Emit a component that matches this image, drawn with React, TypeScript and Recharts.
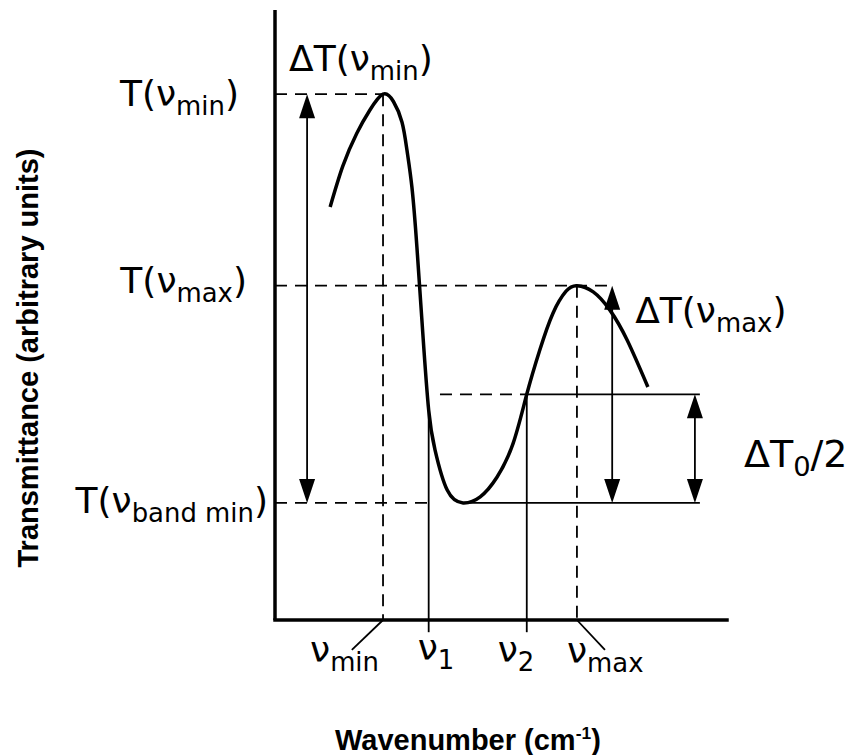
import React from 'react';
import { LineChart, Line, XAxis, YAxis, ReferenceLine, ReferenceDot, Customized } from 'recharts';

// ---- Data (arbitrary units, 0..100 on both axes) ----
const curveX = [12.2, 15.0, 18.1, 21.0, 23.9, 26.2, 28.1, 29.2, 30.3, 31.4, 32.7, 34.0, 35.4, 38.1, 41.6, 45.4, 49.1, 52.7, 55.7, 58.6, 61.5, 64.4, 66.8, 70.4, 74.1, 77.9, 82.5];
const curveY = [67.7, 74.4, 79.8, 83.6, 86.2, 85.0, 81.6, 77.0, 70.9, 61.1, 47.0, 34.4, 27.9, 21.3, 19.2, 20.2, 23.4, 29.0, 37.0, 44.3, 50.3, 53.9, 54.8, 53.8, 50.8, 45.9, 38.2];

// characteristic wavenumbers
const nuMin = 23.9;
const nu1 = 34.0;
const nu2 = 55.7;
const nuMax = 66.8;
const nuBandMin = 41.6;

// characteristic transmittances
const tNuMin = 86.2;
const tNuMax = 54.8;
const tHalf = 37.0;
const tBandMin = 19.2;

// annotation anchors
const arrowMinX = 7.1;
const arrowMaxX = 74.6;
const arrowHalfX = 92.9;
const levelEndX = 94.0;
const halfDashStartX = 36.5;
const tickBelowY = -2.0;
const slantMinEndX = 17.0;
const slantMaxEndX = 73.0;
const slantEndY = -4.9;

// label texts: [text, kind]
type Part = [string, '' | 'sub' | 'sup'];
const leftLabelTexts: Part[][] = [
  [['T(ν', ''], ['min', 'sub'], [')', '']],
  [['T(ν', ''], ['max', 'sub'], [')', '']],
  [['T(ν', ''], ['band min', 'sub'], [')', '']],
];
const leftLabelLevels = [tNuMin, tNuMax, tBandMin];
const bottomLabelTexts: Part[][] = [
  [['ν', ''], ['min', 'sub']],
  [['ν', ''], ['1', 'sub']],
  [['ν', ''], ['2', 'sub']],
  [['ν', ''], ['max', 'sub']],
];
const bottomLabelXs = [nuMin, nu1, nu2, nuMax];
const deltaMinText: Part[] = [['ΔT(ν', ''], ['min', 'sub'], [')', '']];
const deltaMaxText: Part[] = [['ΔT(ν', ''], ['max', 'sub'], [')', '']];
const deltaHalfText: Part[] = [['ΔT', ''], ['0', 'sub'], ['/2', '']];
const xTitle: Part[] = [['Wavenumber (cm', ''], ['-1', 'sup'], [')', '']];
const yTitle = 'Transmittance (arbitrary units)';

// ---- layout / style ----
const W = 865;
const H = 755;
const FONT = '"DejaVu Sans", "Open Sans", sans-serif';
const FS = 36;
const SUB_SHIFT = 9;
const leftLayout = [
  { dx: -36, dy: 12 },
  { dx: -28, dy: 7 },
  { dx: -7, dy: 10 },
];
const bottomLayout = [
  { dx: -73, dy: 42 },
  { dx: -11, dy: 40 },
  { dx: -29, dy: 42 },
  { dx: -10, dy: 43 },
];

const data = curveX.map((x, i) => ({ x, y: curveY[i] }));

function renderParts(parts: Part[], fs: number) {
  const out: React.ReactNode[] = [];
  let shift = 0;
  parts.forEach(([t, kind], i) => {
    let target = 0;
    if (kind === 'sub') target = SUB_SHIFT;
    if (kind === 'sup') target = -11;
    const dy = target - shift;
    shift = target;
    out.push(
      <tspan key={i} dy={dy} fontSize={kind ? (kind === 'sup' ? fs * 0.6 : fs * 0.72) : fs}>
        {t}
      </tspan>
    );
  });
  return out;
}

const makeTextShape = (parts: Part[], dx: number, dy: number, anchor: 'start' | 'end' | 'middle', fs = FS) =>
  (props: any) => (
    <text
      x={props.cx + dx}
      y={props.cy + dy}
      textAnchor={anchor}
      fontFamily={FONT}
      fontSize={fs}
      fill="#000"
    >
      {renderParts(parts, fs)}
    </text>
  );

const DoubleArrow = (props: any) => {
  const { x1, y1, x2, y2 } = props;
  const x = (x1 + x2) / 2;
  const top = Math.min(y1, y2);
  const bot = Math.max(y1, y2);
  const hl = 24;
  const hw = 8;
  return (
    <g>
      <line x1={x} y1={top + hl - 2} x2={x} y2={bot - hl + 2} stroke="#000" strokeWidth={1.8} />
      <polygon points={`${x},${top} ${x - hw},${top + hl} ${x + hw},${top + hl}`} fill="#000" />
      <polygon points={`${x},${bot} ${x - hw},${bot - hl} ${x + hw},${bot - hl}`} fill="#000" />
    </g>
  );
};

const AxisTitles = () => (
  <g>
    <text
      x={0}
      y={0}
      transform="translate(28,358) rotate(-90)"
      textAnchor="middle"
      dominantBaseline="central"
      fontFamily='"Liberation Sans", Arial, sans-serif'
      fontWeight="bold"
      fontSize={29}
      fill="#000"
    >
      {yTitle}
    </text>
    <text
      x={335}
      y={750}
      fontFamily='"Liberation Sans", Arial, sans-serif'
      fontWeight="bold"
      fontSize={29}
      fill="#000"
    >
      {renderParts(xTitle, 29)}
    </text>
  </g>
);

const dash = '12 8';
const thin = 1.8;

export default function App() {
  return (
    <div style={{ position: 'absolute', left: 0, top: 0, width: W, height: H, background: '#fff' }}>
      <LineChart width={W} height={H} data={data} margin={{ top: 10, right: 138, bottom: 135, left: 275 }}>
        <XAxis dataKey="x" type="number" domain={[0, 100]} hide />
        <YAxis type="number" domain={[0, 100]} hide />

        {/* axes */}
        <ReferenceLine segment={[{ x: 0, y: 0 }, { x: 0, y: 100 }]} stroke="#000" strokeWidth={3.5} ifOverflow="visible" />
        <ReferenceLine segment={[{ x: 0, y: 0 }, { x: 100, y: 0 }]} stroke="#000" strokeWidth={3.5} strokeLinecap="square" ifOverflow="visible" />

        {/* dashed guides */}
        <ReferenceLine segment={[{ x: 0, y: tNuMin }, { x: nuMin, y: tNuMin }]} stroke="#000" strokeWidth={thin} strokeDasharray={dash} ifOverflow="visible" />
        <ReferenceLine segment={[{ x: nuMin, y: tNuMin }, { x: nuMin, y: 0 }]} stroke="#000" strokeWidth={thin} strokeDasharray={dash} ifOverflow="visible" />
        <ReferenceLine segment={[{ x: 0, y: tNuMax }, { x: arrowMaxX, y: tNuMax }]} stroke="#000" strokeWidth={thin} strokeDasharray={dash} ifOverflow="visible" />
        <ReferenceLine segment={[{ x: nuMax, y: tNuMax }, { x: nuMax, y: 0 }]} stroke="#000" strokeWidth={thin} strokeDasharray={dash} ifOverflow="visible" />
        <ReferenceLine segment={[{ x: 0, y: tBandMin }, { x: nu1, y: tBandMin }]} stroke="#000" strokeWidth={thin} strokeDasharray={dash} ifOverflow="visible" />
        <ReferenceLine segment={[{ x: halfDashStartX, y: tHalf }, { x: nu2, y: tHalf }]} stroke="#000" strokeWidth={thin} strokeDasharray={dash} ifOverflow="visible" />

        {/* solid guides */}
        <ReferenceLine segment={[{ x: nuBandMin, y: tBandMin }, { x: levelEndX, y: tBandMin }]} stroke="#000" strokeWidth={thin} ifOverflow="visible" />
        <ReferenceLine segment={[{ x: nu2, y: tHalf }, { x: levelEndX, y: tHalf }]} stroke="#000" strokeWidth={thin} ifOverflow="visible" />
        <ReferenceLine segment={[{ x: nu1, y: curveY[curveX.indexOf(nu1)] }, { x: nu1, y: tickBelowY }]} stroke="#000" strokeWidth={thin} ifOverflow="visible" />
        <ReferenceLine segment={[{ x: nu2, y: tHalf }, { x: nu2, y: tickBelowY }]} stroke="#000" strokeWidth={thin} ifOverflow="visible" />
        <ReferenceLine segment={[{ x: nuMin, y: 0 }, { x: slantMinEndX, y: slantEndY }]} stroke="#000" strokeWidth={thin} ifOverflow="visible" />
        <ReferenceLine segment={[{ x: nuMax, y: 0 }, { x: slantMaxEndX, y: slantEndY }]} stroke="#000" strokeWidth={thin} ifOverflow="visible" />

        {/* double arrows */}
        <ReferenceLine segment={[{ x: arrowMinX, y: tNuMin }, { x: arrowMinX, y: tBandMin }]} shape={DoubleArrow} ifOverflow="visible" />
        <ReferenceLine segment={[{ x: arrowMaxX, y: tNuMax }, { x: arrowMaxX, y: tBandMin }]} shape={DoubleArrow} ifOverflow="visible" />
        <ReferenceLine segment={[{ x: arrowHalfX, y: tHalf }, { x: arrowHalfX, y: tBandMin }]} shape={DoubleArrow} ifOverflow="visible" />

        {/* the transmittance curve */}
        <Line dataKey="y" type="natural" stroke="#000" strokeWidth={3.5} dot={false} activeDot={false} isAnimationActive={false} />

        {/* labels */}
        {leftLabelTexts.map((parts, i) => (
          <ReferenceDot key={'l' + i} x={0} y={leftLabelLevels[i]} r={0} ifOverflow="visible"
            shape={makeTextShape(parts, leftLayout[i].dx, leftLayout[i].dy, 'end')} />
        ))}
        {bottomLabelTexts.map((parts, i) => (
          <ReferenceDot key={'b' + i} x={bottomLabelXs[i]} y={0} r={0} ifOverflow="visible"
            shape={makeTextShape(parts, bottomLayout[i].dx, bottomLayout[i].dy, 'start')} />
        ))}
        <ReferenceDot x={nuMin} y={tNuMin} r={0} ifOverflow="visible" shape={makeTextShape(deltaMinText, -94, -23, 'start')} />
        <ReferenceDot x={arrowMaxX} y={tNuMax} r={0} ifOverflow="visible" shape={makeTextShape(deltaMaxText, 23, 37, 'start')} />
        <ReferenceDot x={arrowHalfX} y={(tHalf + tBandMin) / 2} r={0} ifOverflow="visible" shape={makeTextShape(deltaHalfText, 49, 18, 'start', 38)} />

        <Customized component={AxisTitles} />
      </LineChart>
    </div>
  );
}
